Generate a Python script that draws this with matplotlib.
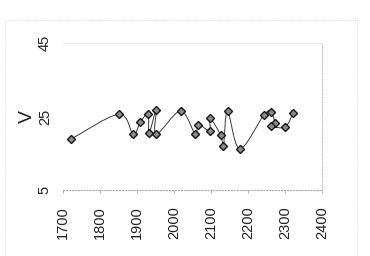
import numpy as np
import matplotlib
matplotlib.use('Agg')
import matplotlib.pyplot as plt
from matplotlib.path import Path
from matplotlib.patches import PathPatch, Rectangle

plt.rcParams['font.family'] = ['Liberation Sans', 'DejaVu Sans']

# points in the order the curve visits them
year = [1723, 1851, 1890, 1909, 1930, 1933, 1952, 1952, 2018, 2058, 2066, 2097,
        2097, 2126, 2134, 2145, 2178, 2243, 2263, 2272, 2263, 2301, 2322]
v = [18.9, 25.6, 20.2, 23.4, 25.7, 20.4, 26.8, 20.1, 26.5, 20.1, 22.8, 21.1,
     24.7, 20.0, 17.1, 26.4, 16.2, 25.4, 26.3, 23.3, 22.3, 22.2, 25.9]
xticks = [1700, 1800, 1900, 2000, 2100, 2200, 2300, 2400]
yticks = [5, 25, 45]

fig = plt.figure(figsize=(3.70, 2.56), dpi=100)
ax = fig.add_axes([0.170, 0.258, 0.700, 0.574])

# smoothed line (cubic bezier segments, catmull-rom style)
p = np.column_stack([year, v])
verts = [p[0]]
codes = [Path.MOVETO]
n = len(p)
for i in range(n - 1):
    p0 = p[max(i - 1, 0)]
    p1 = p[i]
    p2 = p[i + 1]
    p3 = p[min(i + 2, n - 1)]
    c1 = p1 + (p2 - p0) / 6.0
    c2 = p2 - (p3 - p1) / 6.0
    verts += [c1, c2, p2]
    codes += [Path.CURVE4] * 3
ax.add_patch(PathPatch(Path(verts, codes), facecolor='none', edgecolor='#3a3a3a', lw=0.7))
ax.plot(year, v, linestyle='none', marker='D', markersize=4.5,
        markerfacecolor='#8c8c8c', markeredgecolor='#151515', markeredgewidth=1.0)

ax.set_xlim(1700, 2400)
ax.set_ylim(5, 45)
ax.set_xticks(xticks)
ax.set_yticks(yticks)
ax.set_xticklabels([str(t) for t in xticks], rotation=90, fontsize=10.5, color='#222222')
ax.set_yticklabels([str(t) for t in yticks], rotation=90, fontsize=10.5, color='#222222', va='center')
ax.tick_params(axis='x', length=2, width=0.5, color='#999999', pad=10)
ax.tick_params(axis='y', length=0, pad=8)
ax.set_ylabel('V', fontsize=14, rotation=90, labelpad=1, color='#222222')

ax.spines['left'].set_visible(False)
ax.spines['bottom'].set_color('#aaaaaa')
ax.spines['bottom'].set_linestyle(':')
ax.spines['bottom'].set_linewidth(0.8)
ax.spines['right'].set_color('#bbbbbb')
ax.spines['right'].set_linestyle(':')
ax.spines['right'].set_linewidth(0.7)
ax.spines['top'].set_color('#dddddd')
ax.spines['top'].set_linestyle(':')
ax.spines['top'].set_linewidth(0.6)

# outer dotted border of the scanned figure
fig.patches.append(Rectangle((0.014, 0.0), 0.951, 0.92, transform=fig.transFigure,
                             fill=False, edgecolor='#c8c8c8', lw=0.6, linestyle=':'))

fig.savefig('out.png', dpi=100)
